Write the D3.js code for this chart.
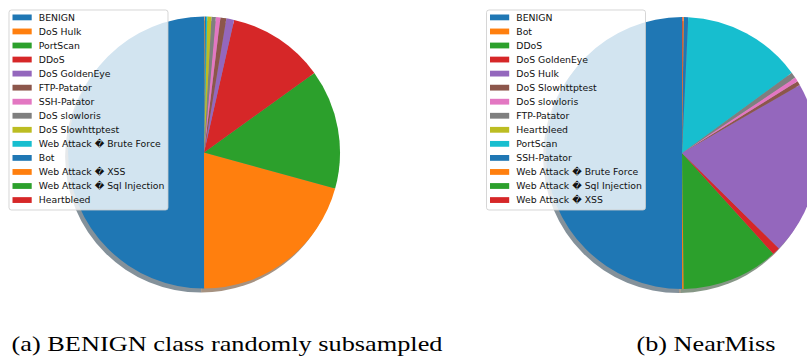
<!DOCTYPE html>
<html>
<head>
<meta charset="utf-8">
<script src="https://cdn.jsdelivr.net/npm/d3@7"></script>
<style>
  html, body { margin: 0; padding: 0; background: #fff; }
  svg { display: block; }
</style>
</head>
<body>
<svg id="chart" width="807" height="358"></svg>
<script>
// Class shares (percent of samples) after balancing the dataset.
const randomLabels = [
  "BENIGN", "DoS Hulk", "PortScan", "DDoS", "DoS GoldenEye", "FTP-Patator",
  "SSH-Patator", "DoS slowloris", "DoS Slowhttptest", "Web Attack \uFFFD Brute Force",
  "Bot", "Web Attack \uFFFD XSS", "Web Attack \uFFFD Sql Injection", "Heartbleed"
];
const randomShares = [50.0, 20.7, 14.2, 11.5, 0.92, 0.71, 0.53, 0.52, 0.49, 0.14, 0.18, 0.06, 0.002, 0.001];

const nearMissLabels = [
  "BENIGN", "Bot", "DDoS", "DoS GoldenEye", "DoS Hulk", "DoS Slowhttptest",
  "DoS slowloris", "FTP-Patator", "Heartbleed", "PortScan", "SSH-Patator",
  "Web Attack \uFFFD Brute Force", "Web Attack \uFFFD Sql Injection", "Web Attack \uFFFD XSS"
];
const nearMissShares = [50.0, 0.18, 11.5, 0.92, 20.7, 0.49, 0.52, 0.71, 0.001, 14.2, 0.53, 0.14, 0.002, 0.06];

const captions = ["(a) BENIGN class randomly subsampled", "(b) NearMiss"];

const palette = ["#1f77b4", "#ff7f0e", "#2ca02c", "#d62728", "#9467bd",
                 "#8c564b", "#e377c2", "#7f7f7f", "#bcbd22", "#17becf"];

const svg = d3.select("#chart");

const panels = [
  { labels: randomLabels, shares: randomShares, cx: 204, cy: 152.5, legendX: 9,
    caption: captions[0], capX: 11.5, capW: 431 },
  { labels: nearMissLabels, shares: nearMissShares, cx: 682, cy: 153, legendX: 486.5,
    caption: captions[1], capX: 636.5, capW: 139 }
];

const radius = 136;

panels.forEach(p => {
  const color = d3.scaleOrdinal().domain(d3.range(p.labels.length)).range(palette);
  const rows = p.labels.map((label, i) => ({ label, value: p.shares[i], i }));

  // Counter-clockwise from 12 o'clock
  const pie = d3.pie().value(d => d.value).sort(null).startAngle(0).endAngle(-2 * Math.PI);
  const arcs = pie(rows);
  const arc = d3.arc().innerRadius(0).outerRadius(radius);

  const g = svg.append("g").attr("transform", `translate(${p.cx},${p.cy})`);

  // Drop shadow beneath all wedges
  g.append("g").attr("transform", "translate(-3,4)")
    .selectAll("path").data(arcs).join("path")
    .attr("d", arc)
    .attr("fill", d => {
      const c = d3.rgb(color(d.data.i));
      return d3.rgb(c.r * 0.3, c.g * 0.3, c.b * 0.3);
    })
    .attr("fill-opacity", 0.5);

  g.append("g").selectAll("path").data(arcs).join("path")
    .attr("d", arc)
    .attr("fill", d => color(d.data.i));

  // Legend
  const lg = svg.append("g").attr("transform", `translate(${p.legendX},10)`);
  lg.append("rect")
    .attr("x", 0).attr("y", 0).attr("width", 159).attr("height", 200)
    .attr("rx", 2.5).attr("ry", 2.5)
    .attr("fill", "#fff").attr("fill-opacity", 0.8)
    .attr("stroke", "#cccccc").attr("stroke-opacity", 0.8).attr("stroke-width", 1);

  const step = 14.05;
  const items = lg.selectAll("g.item").data(rows).join("g")
    .attr("class", "item")
    .attr("transform", (d, i) => `translate(0,${7.4 + i * step})`);
  items.append("rect")
    .attr("x", 3.5).attr("y", -2.9).attr("width", 19.2).attr("height", 5.8)
    .attr("fill", d => color(d.i));
  items.append("text")
    .attr("x", 29.8).attr("y", 0)
    .attr("dy", "0.35em")
    .attr("font-family", "DejaVu Sans")
    .attr("font-size", 9.3)
    .attr("fill", "#111")
    .text(d => d.label);

  // Caption
  svg.append("text")
    .attr("x", p.capX).attr("y", 351)
    .attr("font-family", "Liberation Serif")
    .attr("font-size", 22)
    .attr("fill", "#000")
    .attr("textLength", p.capW)
    .attr("lengthAdjust", "spacingAndGlyphs")
    .text(p.caption);
});
</script>
</body>
</html>
